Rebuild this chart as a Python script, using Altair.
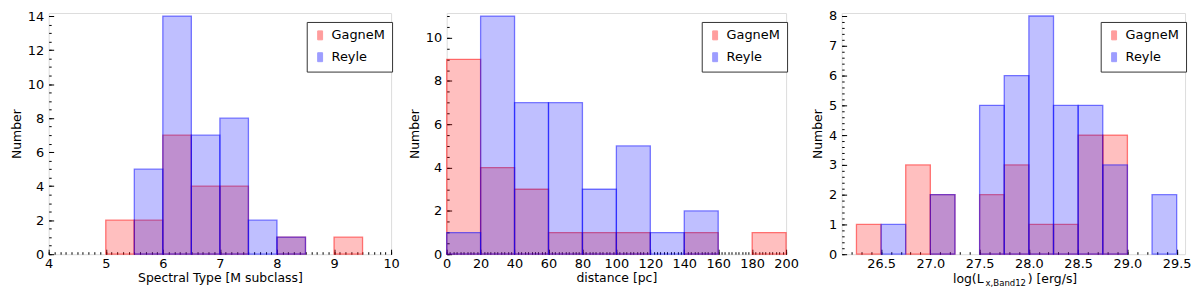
import altair as alt
import pandas as pd

SERIES = ["GagneM", "Reyle"]
COLORS = ["#ff0000", "#0000ff"]

# Panel 1: spectral type (bin left edges, bin width 0.5)
SPT_EDGES = [5.0, 5.5, 6.0, 6.5, 7.0, 7.5, 8.0, 8.5, 9.0]
SPT_GAGNE = [2, 2, 7, 4, 4, 0, 1, 0, 1]
SPT_REYLE = [0, 5, 14, 7, 8, 2, 1, 0, 0]
SPT_WIDTH = 0.5

# Panel 2: distance (bin width 20)
DIST_EDGES = [0, 20, 40, 60, 80, 100, 120, 140, 160, 180]
DIST_GAGNE = [9, 4, 3, 1, 1, 1, 0, 1, 0, 1]
DIST_REYLE = [1, 11, 7, 7, 3, 5, 1, 2, 0, 0]
DIST_WIDTH = 20

# Panel 3: log Lx (bin width 0.25)
LX_EDGES = [26.25, 26.5, 26.75, 27.0, 27.25, 27.5, 27.75, 28.0, 28.25, 28.5, 28.75, 29.0, 29.25]
LX_GAGNE = [1, 0, 3, 2, 0, 2, 3, 1, 1, 4, 4, 0, 0]
LX_REYLE = [0, 1, 0, 2, 0, 5, 6, 8, 5, 5, 3, 0, 2]
LX_WIDTH = 0.25

FONT = "DejaVu Sans"
H = 243
SYMBOL = "M-0.55,-1L0.55,-1L0.55,1L-0.55,1Z"
TICK_FS = 13
TITLE_FS = 12.5


def frange(a, b, step):
    out = []
    n = int(round((b - a) / step))
    for i in range(n + 1):
        out.append(round(a + i * step, 6))
    return out


def build_df(edges, width, gagne, reyle):
    rows = []
    k = 0
    for name, counts in zip(SERIES, [gagne, reyle]):
        for e, c in zip(edges, counts):
            if c > 0:
                rows.append({"sample": name, "x0": e, "x1": e + width, "count": c, "k": k})
                k += 1
    return pd.DataFrame(rows)


def panel(edges, width, gagne, reyle, xdom, ydom, xticks, xminor, yticks, yminor,
          xtitle, xfmt, w, legx, subtitle=None):
    df = build_df(edges, width, gagne, reyle)
    xs = alt.Scale(domain=xdom, nice=False, zero=False)
    ys = alt.Scale(domain=ydom, nice=False, zero=False)
    cs = alt.Scale(domain=SERIES, range=COLORS)
    leg = alt.Legend(title=None, orient="none", legendX=legx, legendY=9,
                     strokeColor="#333333", fillColor="white", padding=7,
                     labelFontSize=13, labelFont=FONT, labelColor="black",
                     symbolType=SYMBOL, symbolSize=81, symbolStrokeWidth=1,
                     symbolOpacity=0.38, rowPadding=8, labelOffset=5, cornerRadius=0)
    major_x = alt.Axis(values=xticks, format=xfmt, orient="bottom", offset=-5, tickSize=5,
                       domain=False, grid=False, labelPadding=3, tickColor="black",
                       title=(xtitle if subtitle is None else None), titlePadding=2,
                       labelFontSize=TICK_FS, titleFontSize=TITLE_FS, labelFont=FONT,
                       titleFont=FONT, titleFontWeight="normal", labelColor="black",
                       titleColor="black", labelFlush=False)
    major_y = alt.Axis(values=yticks, format="d", orient="left", offset=-5, tickSize=5,
                       domain=False, grid=False, labelPadding=5, tickColor="black",
                       title="Number", titlePadding=4, labelFontSize=TICK_FS,
                       titleFontSize=TITLE_FS, labelFont=FONT, titleFont=FONT,
                       titleFontWeight="normal", labelColor="black", titleColor="black")
    minor_x = alt.Axis(values=xminor, orient="bottom", offset=-2.5, tickSize=2.5,
                       domain=False, grid=False, labels=False, title=None, tickColor="black")
    minor_y = alt.Axis(values=yminor, orient="left", offset=-2.5, tickSize=2.5,
                       domain=False, grid=False, labels=False, title=None, tickColor="black")

    bars = alt.Chart(df).mark_rect(fillOpacity=0.25, strokeOpacity=0.5, strokeWidth=1.3).encode(
        x=alt.X("x0:Q", scale=xs, axis=major_x),
        x2="x1:Q",
        y=alt.Y("count:Q", scale=ys, axis=major_y),
        y2=alt.Y2(datum=0),
        fill=alt.Fill("sample:N", scale=cs, legend=leg),
        stroke=alt.Stroke("sample:N", scale=cs, legend=leg),
        order=alt.Order("k:Q"),
    )
    ghost = alt.Chart(df).mark_rect(opacity=0).encode(
        x=alt.X("x0:Q", scale=xs, axis=minor_x),
        x2="x1:Q",
        y=alt.Y("count:Q", scale=ys, axis=minor_y),
        y2=alt.Y2(datum=0),
    )
    layers = [bars, ghost]
    if subtitle is not None:
        base = alt.Chart(alt.Data(values=[{}]))
        for txt, xp, size, dy, align in subtitle:
            layers.append(base.mark_text(text=txt, font=FONT, fontSize=size, align=align,
                                         baseline="alphabetic", color="black").encode(
                x=alt.value(xp), y=alt.value(H + 29 + dy)))
    ch = alt.layer(*layers).resolve_axis(x="independent", y="independent").properties(
        width=w, height=H)
    return ch


p1 = panel(SPT_EDGES, SPT_WIDTH, SPT_GAGNE, SPT_REYLE, [4, 10], [0, 14.18],
           frange(4, 10, 1), frange(4, 10, 0.1), frange(0, 14, 2), frange(0, 14, 0.5),
           "Spectral Type [M subclass]", "d", 345, 260)
p2 = panel(DIST_EDGES, DIST_WIDTH, DIST_GAGNE, DIST_REYLE, [0, 200], [0, 11.14],
           frange(0, 200, 20), frange(0, 200, 2), frange(0, 10, 2), frange(0, 11, 0.5),
           "distance [pc]", "d", 342, 257)
p3 = panel(LX_EDGES, LX_WIDTH, LX_GAGNE, LX_REYLE, [26.1, 29.585], [0, 8.1],
           frange(26.5, 29.5, 0.5), frange(26.2, 29.5, 0.1), frange(0, 8, 1), frange(0, 8, 0.2),
           "log(Lx,Band12) [erg/s]", ".1f", 346, 261,
           subtitle=[("log(L", 143, TITLE_FS, 0, "right"), ("x,Band12", 145, 8.6, 3, "left"),
                     (") [erg/s]", 187.5, TITLE_FS, 0, "left")])

chart = alt.hconcat(p1, p2, p3, spacing=56, bounds="flush").resolve_scale(
    fill="independent", stroke="independent").resolve_legend(
    fill="independent", stroke="independent").configure_view(
    stroke="#808080", strokeWidth=1.2).properties(
    padding={"left": 1, "top": 0, "right": 0, "bottom": 0}).configure(background="white")

chart.save("out.html", embed_options={"renderer": "svg", "actions": False})
